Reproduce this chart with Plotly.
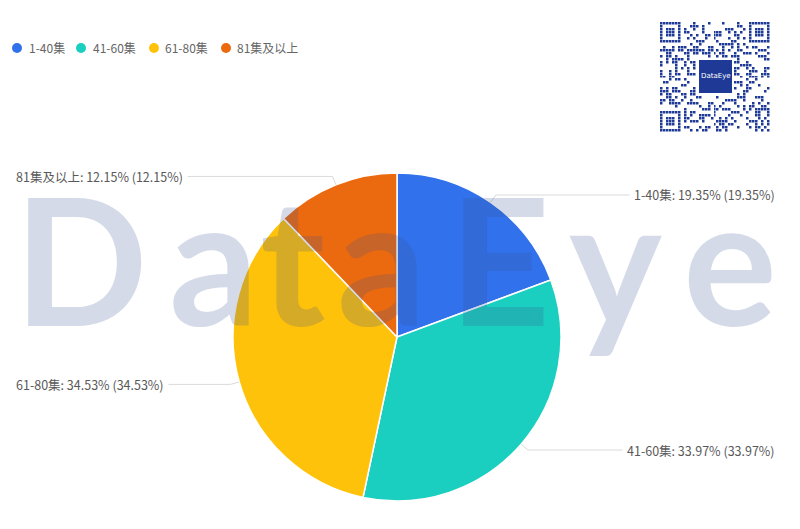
import math
import hashlib
import plotly.graph_objects as go

# ---------------- data ----------------
categories = ["1-40集", "41-60集", "61-80集", "81集及以上"]
shares = [19.35, 33.97, 34.53, 12.15]
colors = ["#3171EB", "#1ACFBF", "#FFC20A", "#EC6A0F"]

W, H = 800, 529
CX, CY, R = 397, 337, 164  # pie centre / radius in px


def px(x):
    return x / W


def py(y):
    return 1 - y / H


fig = go.Figure()

fig.add_trace(go.Pie(
    labels=categories, values=shares, sort=False, direction="clockwise", rotation=0,
    marker=dict(colors=colors, line=dict(color="white", width=1.5)),
    textinfo="none", showlegend=False,
    domain=dict(x=[px(CX - R), px(CX + R)], y=[py(CY + R), py(CY - R)]),
    hovertemplate="%{label}: %{value}%<extra></extra>",
))

shapes = []
annotations = []

# ---------------- outside labels with leader lines ----------------
total = sum(shares)
cum = 0.0
LABEL_FONT = dict(family="Microsoft YaHei, Noto Sans CJK SC, sans-serif", size=12.5, color="#595959")
for cat, v in zip(categories, shares):
    theta = 2 * math.pi * (cum + v / 2) / total
    cum += v
    s, c = math.sin(theta), math.cos(theta)
    x0, y0 = CX + R * s, CY - R * c
    x1, y1 = CX + (R + 9) * s, CY - (R + 9) * c
    right = s >= 0
    xe = 776 if right else 15
    shapes.append(dict(type="path", xref="paper", yref="paper",
                       path=f"M {px(x0)},{py(y0)} L {px(x1)},{py(y1)} L {px(xe)},{py(y1)}",
                       line=dict(color="#DADADA", width=1)))
    annotations.append(dict(
        x=px(xe + (4 if right else -4)), y=py(y1), xref="paper", yref="paper",
        xanchor="right" if right else "left", yanchor="middle",
        text=f"{cat}: {v:.2f}% ({v:.2f}%)", showarrow=False,
        font=LABEL_FONT, bgcolor="white", borderpad=4,
    ))

# ---------------- custom legend (circle markers) ----------------
legend_marker_x = [17, 81, 154, 226]
legend_text_x = [27, 91, 163, 235]
LEG_Y = 48
for cat, col, mx, tx in zip(categories, colors, legend_marker_x, legend_text_x):
    shapes.append(dict(type="circle", xref="paper", yref="paper",
                       x0=px(mx - 5), x1=px(mx + 5), y0=py(LEG_Y + 5), y1=py(LEG_Y - 5),
                       fillcolor=col, line=dict(width=0)))
    annotations.append(dict(x=px(tx), y=py(LEG_Y), xref="paper", yref="paper",
                            xanchor="left", yanchor="middle", text=cat, showarrow=False,
                            font=dict(family="Microsoft YaHei, Noto Sans CJK SC, sans-serif",
                                      size=12, color="#666666")))

# ---------------- watermark (drawn above the pie, translucent) ----------------
wm_letters = list("DataEye")
wm_centres = [81, 213, 292, 381, 499, 615, 730]
for ch, xc in zip(wm_letters, wm_centres):
    annotations.append(dict(
        x=px(xc), y=py(257), xref="paper", yref="paper", xanchor="center", yanchor="middle",
        text=ch, showarrow=False,
        font=dict(family="Lato", size=176, weight="bold", color="rgba(57,80,147,0.21)"),
    ))

# ---------------- QR-code decoration ----------------
N = 37
QX0, QX1, QY0, QY1 = 660, 770, 22, 132
vals = []
k = 0
while len(vals) < N * N:
    for b in hashlib.sha256(f"DataEye-{k}".encode()).digest():
        vals.append(b & 7)
        vals.append((b >> 3) & 7)
    k += 1
z = [[1 if vals[r * N + c] < 3 else 0 for c in range(N)] for r in range(N)]


def finder(r0, c0):
    for r in range(-1, 8):
        for c in range(-1, 8):
            rr, cc = r0 + r, c0 + c
            if 0 <= rr < N and 0 <= cc < N:
                z[rr][cc] = 0
    for r in range(7):
        for c in range(7):
            edge = r in (0, 6) or c in (0, 6)
            core = 2 <= r <= 4 and 2 <= c <= 4
            z[r0 + r][c0 + c] = 1 if (edge or core) else 0


finder(0, 0)
finder(0, N - 7)
finder(N - 7, 0)
for r in range(12, 25):
    for c in range(12, 25):
        z[r][c] = 0

fig.add_trace(go.Heatmap(z=z, colorscale=[[0, "white"], [1, "#1E3A96"]], zmin=0, zmax=1,
                         showscale=False, hoverinfo="skip", xgap=0.5, ygap=0.5))
shapes.append(dict(type="rect", xref="paper", yref="paper",
                   x0=px(699), x1=px(732), y0=py(93), y1=py(60),
                   fillcolor="#1E3A96", line=dict(width=0)))
annotations.append(dict(x=px(715.5), y=py(76.5), xref="paper", yref="paper",
                        xanchor="center", yanchor="middle",
                        text="DataEye", showarrow=False,
                        font=dict(family="DejaVu Sans", size=7, color="white")))

fig.update_layout(
    width=W, height=H, margin=dict(l=0, r=0, t=0, b=0),
    paper_bgcolor="white", plot_bgcolor="white",
    xaxis=dict(domain=[px(QX0), px(QX1)], visible=False, range=[-0.5, N - 0.5]),
    yaxis=dict(domain=[py(QY1), py(QY0)], visible=False, range=[N - 0.5, -0.5]),
    shapes=shapes, annotations=annotations, showlegend=False,
)

fig.write_html("out.html", config={"displayModeBar": False},
               post_script="document.body.style.margin='0';")
